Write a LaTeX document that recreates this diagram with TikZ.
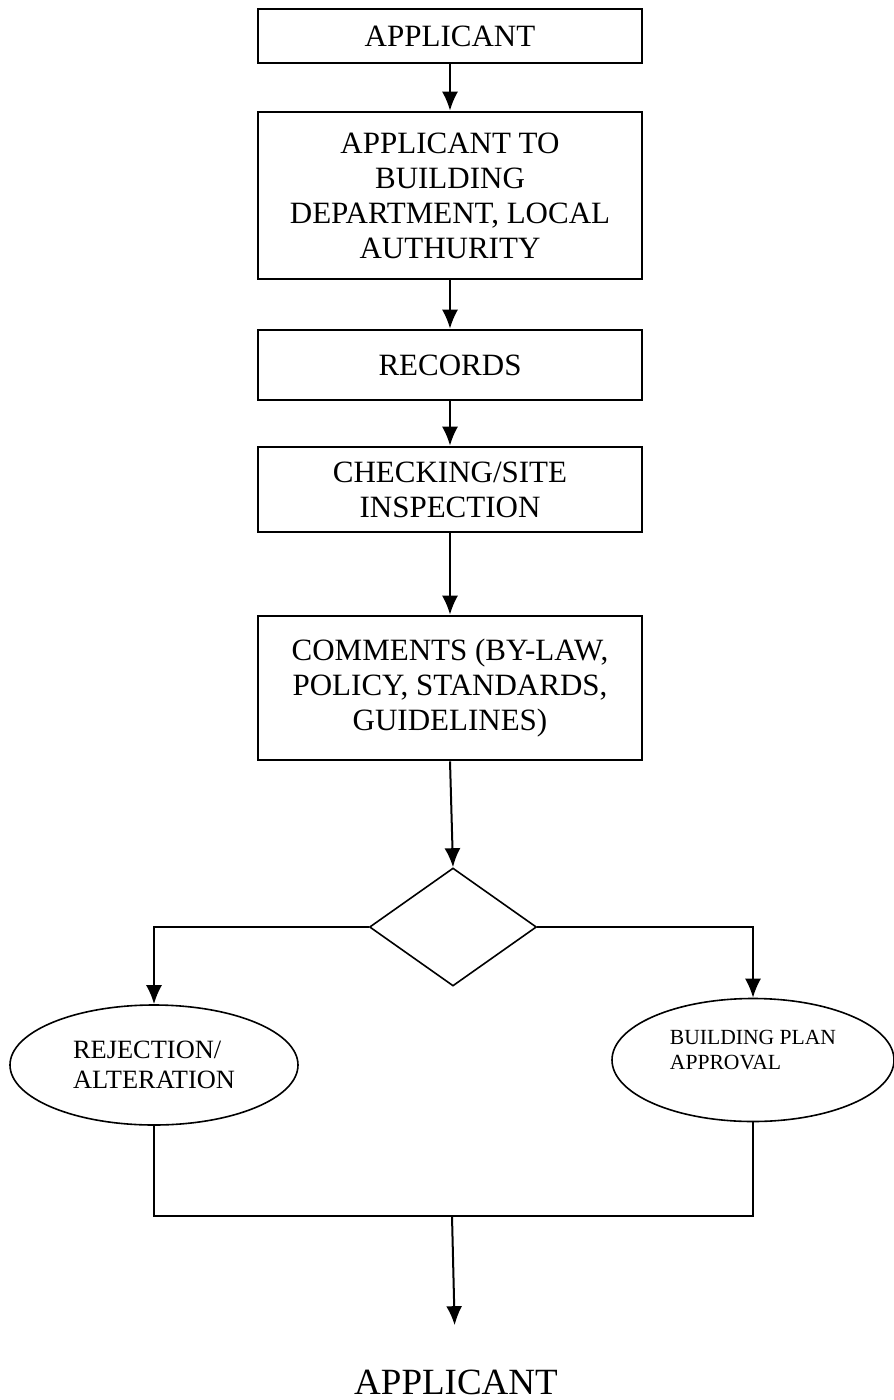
\documentclass[tikz,border=0pt]{standalone}
\usepackage{fontspec}
\setmainfont{Liberation Serif}
\usetikzlibrary{arrows.meta,shapes.geometric}
\begin{document}
\begin{tikzpicture}[x=0.5pt,y=-0.5pt,>={Latex[length=9.5pt,width=8pt]},
  box/.style={draw,line width=1.3pt,minimum width=192pt,inner sep=0pt,align=center,font=\fontsize{15.5}{17.5}\selectfont},
  oval/.style={draw,ellipse,line width=0.8pt,inner sep=0pt,align=left},
  flow/.style={->,line width=1pt}]
\useasboundingbox (0,0) rectangle (893,1400);

\node (app) [box,minimum height=27pt] at (450,36) {APPLICANT};
\node (dept) [box,minimum height=83.5pt] at (450,195.5) {APPLICANT TO\\BUILDING\\DEPARTMENT, LOCAL\\AUTHURITY};
\node (rec) [box,minimum height=35pt] at (450,365) {RECORDS};
\node (chk) [box,minimum height=42.5pt] at (450,489.5) {CHECKING/SITE\\INSPECTION};
\node (com) [box,minimum height=72pt] at (450,688) {COMMENTS (BY-LAW,\\POLICY, STANDARDS,\\GUIDELINES)};
\node (dec) [draw,diamond,line width=0.8pt,minimum width=83.5pt,minimum height=59pt,inner sep=0pt] at (453,927) {};
\node (rej) [oval,minimum width=144pt,minimum height=60pt,font=\fontsize{13.2}{15}\selectfont] at (154,1065) {REJECTION/\\ALTERATION};
\node (appr) [oval,minimum width=141pt,minimum height=61.5pt,
  label={[align=left,yshift=5pt,font=\fontsize{10.8}{12.5}\selectfont]center:BUILDING PLAN\\APPROVAL}] at (753,1060) {};
\node (back) [inner xsep=0pt,inner ysep=22pt,font=\fontsize{18.5}{20}\selectfont] at (456,1382) {APPLICANT};

\draw[flow] (app) -- (dept);
\draw[flow] (dept) -- (rec);
\draw[flow] (rec) -- (chk);
\draw[flow] (chk) -- (com);
\draw[flow] (com.south) -- (dec.north);
\draw[flow] (dec.west) -| (rej.north);
\draw[flow] (dec.east) -| (appr.north);

\coordinate (jn) at (452,1216);
\draw[line width=0.9pt] (rej.south) |- (jn) -| (appr.south);
\draw[flow] (jn) -- (back);
\end{tikzpicture}
\end{document}
